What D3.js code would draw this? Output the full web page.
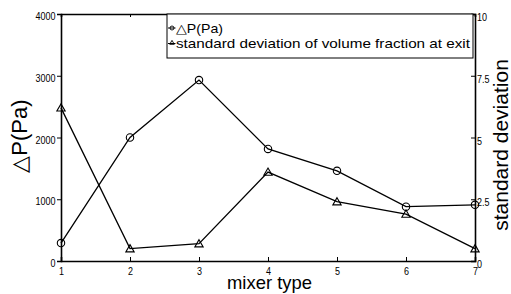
<!DOCTYPE html>
<html>
<head>
<meta charset="utf-8">
<script src="https://cdn.jsdelivr.net/npm/d3@7"></script>
<style>
  body { margin: 0; background: #fff; }
  svg { display: block; }
  .tick text { font-family: "Liberation Sans", Arial, sans-serif; font-size: 11.5px; fill: #000; }
</style>
</head>
<body>
<div id="chart"></div>
<script>
var width = 511,
    height = 294;

// data
var mixerTypes = [1, 2, 3, 4, 5, 6, 7];
var pressureDrop = [290, 2000, 2930, 1815, 1460, 880, 910];
var stdDeviation = [6.2, 0.5, 0.7, 3.6, 2.4, 1.9, 0.5];

var xTicks = [1, 2, 3, 4, 5, 6, 7];
var leftTicks = [0, 1000, 2000, 3000, 4000];
var rightTicks = [0, 2.5, 5, 7.5, 10];
var rightTickLabels = ["0", "2.5", "5", "7.5", "10"];

var margin = {left: 61, right: 36, top: 14, bottom: 33};

var svg = d3.select("#chart")
    .append("svg")
    .attr("width", width)
    .attr("height", height);

var x = d3.scaleLinear()
    .domain([1, 7])
    .range([margin.left, width - margin.right]);

var yLeft = d3.scaleLinear()
    .domain([0, 4000])
    .range([height - margin.bottom, margin.top]);

var yRight = d3.scaleLinear()
    .domain([0, 10])
    .range([height - margin.bottom, margin.top]);

var x0 = x.range()[0], x1 = x.range()[1];
var yb = yLeft.range()[0], yt = yLeft.range()[1];

// squeeze tick labels like the narrow matlab font
function narrow(sel) {
  sel.each(function() {
    var t = d3.select(this), s = t.text();
    var w = 0;
    for (var c of s) w += (c === ".") ? 2.5 : 5;
    t.attr("textLength", w).attr("lengthAdjust", "spacingAndGlyphs");
  });
}

// axes (matlab-ish box)
var bottomAxis = svg.append("g")
    .attr("transform", "translate(0," + yb + ")")
    .call(d3.axisBottom(x).tickValues(xTicks).tickFormat(d3.format("d")).tickSize(-4));

var topAxis = svg.append("g")
    .attr("transform", "translate(0," + yt + ")")
    .call(d3.axisTop(x).tickValues(xTicks).tickFormat("").tickSize(-3));

var leftAxis = svg.append("g")
    .attr("transform", "translate(" + x0 + ",0)")
    .call(d3.axisLeft(yLeft).tickValues(leftTicks).tickFormat(d3.format("d")).tickSize(4).tickPadding(1.5));

var rightAxis = svg.append("g")
    .attr("transform", "translate(" + x1 + ",0)")
    .call(d3.axisRight(yRight).tickValues(rightTicks)
      .tickFormat(function(d, i) { return rightTickLabels[i]; })
      .tickSize(-4).tickPadding(2));

svg.selectAll(".domain").attr("stroke", "#000").attr("stroke-width", 1.6);
svg.selectAll(".tick line").attr("stroke", "#000").attr("stroke-width", 1);
leftAxis.selectAll(".tick text").attr("dy", 0).attr("y", 5.5).call(narrow);
rightAxis.selectAll(".tick text").attr("dy", 0).attr("y", 6.5).call(narrow);
bottomAxis.selectAll(".tick text").attr("dy", 0).attr("y", 14).call(narrow);

// lines
var linePressure = d3.line()
    .x(function(d, i) { return x(mixerTypes[i]); })
    .y(function(d) { return yLeft(d); });

var lineStd = d3.line()
    .x(function(d, i) { return x(mixerTypes[i]); })
    .y(function(d) { return yRight(d); });

svg.append("path")
    .datum(pressureDrop)
    .attr("d", linePressure)
    .attr("fill", "none")
    .attr("stroke", "#000")
    .attr("stroke-width", 1.3);

svg.append("path")
    .datum(stdDeviation)
    .attr("d", lineStd)
    .attr("fill", "none")
    .attr("stroke", "#000")
    .attr("stroke-width", 1.3);

var tri = d3.symbol().type(d3.symbolTriangle).size(30);

svg.selectAll(".circ")
    .data(pressureDrop)
    .enter()
    .append("circle")
    .attr("cx", function(d, i) { return x(mixerTypes[i]); })
    .attr("cy", function(d) { return yLeft(d); })
    .attr("r", 3.7)
    .attr("fill", "none")
    .attr("stroke", "#000")
    .attr("stroke-width", 1.1);

svg.selectAll(".tri")
    .data(stdDeviation)
    .enter()
    .append("path")
    .attr("d", tri)
    .attr("transform", function(d, i) { return "translate(" + x(mixerTypes[i]) + "," + (yRight(d) + 0.8) + ")"; })
    .attr("fill", "none")
    .attr("stroke", "#000")
    .attr("stroke-width", 1.1);

// legend
var legend = svg.append("g");
legend.append("rect")
    .attr("x", 167).attr("y", yt)
    .attr("width", 306).attr("height", 44)
    .attr("fill", "#fff")
    .attr("stroke", "#000")
    .attr("stroke-width", 1);

var legendItems = ["\u25B3P(Pa)", "standard deviation of volume fraction at exit"];
var legendWidths = [47, 294];
var smallTri = d3.symbol().type(d3.symbolTriangle).size(9);

legendItems.forEach(function(label, i) {
  var ly = 28 + i * 15.5;
  legend.append("line")
      .attr("x1", 168).attr("x2", 175.5)
      .attr("y1", ly).attr("y2", ly)
      .attr("stroke", "#000").attr("stroke-width", 1);
  if (i === 0) {
    legend.append("circle").attr("cx", 172).attr("cy", ly).attr("r", 2)
        .attr("fill", "none").attr("stroke", "#000").attr("stroke-width", 0.9);
  } else {
    legend.append("path").attr("d", smallTri)
        .attr("transform", "translate(172," + (ly - 0.5) + ")")
        .attr("fill", "none").attr("stroke", "#000").attr("stroke-width", 0.9);
  }
  legend.append("text")
      .attr("x", 176).attr("y", ly + 4.5)
      .attr("textLength", legendWidths[i])
      .attr("lengthAdjust", "spacingAndGlyphs")
      .style("font-family", "'Liberation Sans', Arial, sans-serif")
      .style("font-size", "13px")
      .text(label);
});

// axis titles
svg.append("text")
    .attr("x", 227).attr("y", 288.5)
    .attr("textLength", 85)
    .attr("lengthAdjust", "spacingAndGlyphs")
    .style("font-family", "'Liberation Sans', Arial, sans-serif")
    .style("font-size", "18.5px")
    .text("mixer type");

svg.append("text")
    .attr("transform", "translate(27,136) rotate(-90)")
    .attr("text-anchor", "middle")
    .style("font-family", "'Liberation Sans', Arial, sans-serif")
    .style("font-size", "22px")
    .text("\u25B3P(Pa)");

svg.append("text")
    .attr("transform", "translate(508,145) rotate(-90)")
    .attr("text-anchor", "middle")
    .style("font-family", "'Liberation Sans', Arial, sans-serif")
    .style("font-size", "21px")
    .text("standard deviation");
</script>
</body>
</html>
